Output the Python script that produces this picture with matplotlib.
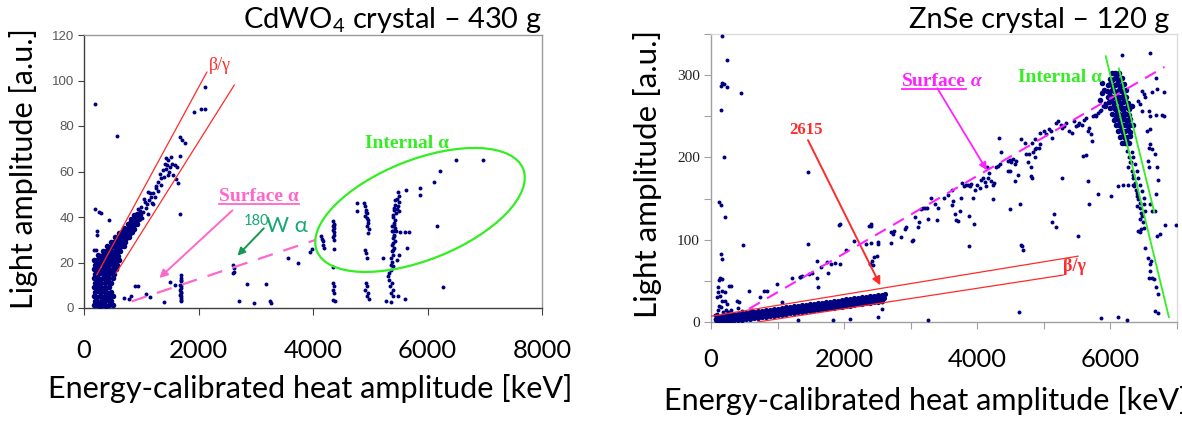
import matplotlib
matplotlib.use("Agg")
import matplotlib.pyplot as plt
from matplotlib.patches import Ellipse
from matplotlib.lines import Line2D
from matplotlib.transforms import IdentityTransform

# ---------------- DATA : CdWO4 (left) ----------------
cd_xticks = [0, 2000, 4000, 6000, 8000]
cd_yticks = [0, 20, 40, 60, 80, 100, 120]

# dense beta/gamma blob + band
cd_dense = [(170,1.1),(225,1.3),(280,0.9),(335,1.2),(390,1.0),(445,1.4),(500,1.2),
            (195,3.1),(250,2.8),(305,3.2),(360,2.9),(415,3.3),(470,3.0),
            (170,5.2),(225,4.9),(280,5.1),(335,4.8),(390,5.3),(445,5.0),(500,5.2),
            (195,7.0),(250,7.3),(305,6.9),(360,7.2),(415,6.8),(470,7.1),
            (170,9.1),(225,8.8),(280,9.2),(335,9.0),(390,8.9),(445,9.3),
            (195,11.2),(250,10.9),(305,11.1),(360,10.8),(415,11.3),(470,11.0),
            (170,13.0),(225,13.2),(280,12.9),(335,13.1),(390,12.8),(445,13.3),(500,13.0),
            (195,15.1),(250,14.8),(305,15.2),(360,14.9),(415,15.0),(470,15.3),(525,14.9),
            (170,17.0),(225,17.2),(280,16.9),(335,17.1),(390,16.8),(445,17.3),(500,17.0),(555,17.2),
            (195,19.1),(250,18.9),(305,19.2),(360,18.8),(415,19.0),(470,19.3),(525,19.1),(580,18.9),
            (175,21.0),(230,21.2),(285,20.9),(340,21.1),(395,20.8),(450,21.2),(505,21.0),(560,20.9),(615,21.3),
            (250,23.1),(300,22.9),(350,23.2),(400,23.0),(450,22.8),(500,23.1),(550,23.3),(600,22.9),
            (330,25.0),(380,25.2),(430,24.9),(480,25.1),(530,24.8),(580,25.2),(630,25.0),
            (400,27.1),(450,26.9),(500,27.2),(550,27.0),(600,26.8),(650,27.1),(690,27.3),
            (470,29.0),(520,29.2),(570,28.9),(620,29.1),(670,28.8),(720,29.2),
            (540,31.1),(590,30.9),(640,31.2),(690,31.0),(740,30.8),(785,31.1),
            (620,33.0),(665,33.2),(710,32.9),(755,33.1),(800,32.8),(840,33.2),
            (700,35.1),(745,34.9),(790,35.2),(835,35.0),(880,34.8),
            (760,37.0),(805,37.2),(850,36.9),(895,37.1),(930,36.8),
            (820,39.1),(865,38.9),(910,39.2),(955,39.0),
            (880,41.0),(925,41.2),(970,40.9)]
cd_band_mid = [(960,40.0),(985,42.5),(1000,44.5),(1029,42.3),(1058,46.7),(1075,44.0),(1100,45.5),
               (1129,47.5),(1150,50.5),(1164,48.9),(1180,46.0),(1205,50.4),(1235,48.9),(1250,53.8),
               (1264,52.6),(1294,55.5),(1300,51.5),(1323,59.1),(1352,57.0),(1382,60.6),(1400,57.8),
               (1411,63.5),(1429,66.0),(1441,61.3),(1450,63.0),(1470,65.0),(1480,60.0),(1499,62.0),
               (1515,66.2),(1529,63.5),(1550,58.5),(1588,62.8),(1600,56.5),(1629,61.8),(1640,55.0),
               (920,37.8),(940,43.5),(1020,39.5),(1110,41.5),(1210,45.5),(1040,48.0),(1120,51.0),
               (1340,54.0),(1460,58.5)]
cd_band_high = [(1670,75.0),(1720,74.0),(1770,72.7),(1676,67.0),(1920,86.0),(2050,87.5),
                (2110,87.5),(2120,97.0)]
cd_outliers = [(190,89.5),(570,75.5),(1670,41.3),(200,43.6),(260,42.4),(300,41.7),(430,38.8),
               (230,33.7),(235,32.2),(175,25.6),(210,25.6),
               (695,4.4),(828,5.1),(894,9.5),(940,9.5),(1079,6.3),(1145,4.8),(1390,2.5),
               (1500,11.5),(1590,10.2),(780,4.0),
               (2847,10.7),(3178,10.7),(2714,2.9),(2966,2.2),(3257,2.9),(3262,2.2),
               (3555,22.0),(3740,19.8),(3950,24.6),(3985,25.8)]
cd_col_1690 = [(1690,14.6),(1688,13.2),(1695,11.7),(1685,10.2),(1692,9.5),(1698,8.8),(1682,8.0),
               (1690,7.0),(1696,6.5),(1684,5.9),(1692,5.1),(1700,4.4),(1686,3.7),(1694,2.9),(1690,12.4)]
cd_w180 = [(2595,19.0),(2615,17.6),(2628,16.0),(2610,15.2)]
cd_alpha = [(4148,31.5),(4160,30.3),(4178,29.3),(4166,27.8),(4196,26.4),
            (4350,38.1),(4360,36.6),(4365,35.2),(4350,34.4),(4362,33.3),(4368,32.2),(4352,31.2),
            (4360,30.0),(4345,36.0),(4372,37.0),(4360,26.1),(4345,18.0),(4356,11.0),(4365,9.5),
            (4355,8.0),(4370,6.6),(4348,3.7),(4380,2.9),
            (4772,46.1),(4772,42.5),(4890,46.1),(4900,44.7),(4930,43.2),(4945,41.8),(4915,40.3),
            (4955,38.8),(4965,37.4),(4935,36.2),(4970,34.7),(4955,33.0),(4950,39.5),(4925,42.0),
            (4900,25.6),(4930,24.2),(4940,22.0),(4930,11.0),(4945,9.5),(4915,8.0),(4955,6.6),
            (4940,5.1),(4970,4.0),
            (5440,47.3),(5430,45.4),(5410,43.2),(5455,41.8),(5395,40.0),(5430,38.8),(5410,37.4),
            (5385,35.9),(5440,35.2),(5375,33.7),(5420,32.2),(5400,30.8),(5430,29.3),(5375,27.8),
            (5410,26.4),(5385,24.9),(5400,23.4),(5355,22.0),(5375,20.1),(5400,18.3),(5355,16.6),
            (5325,15.4),(5420,44.0),(5400,41.0),(5415,36.5),(5395,34.0),(5420,31.5),(5390,28.5),
            (5405,25.5),(5365,19.0),(5310,13.9),(5335,12.5),(5380,11.0),(5350,9.5),(5390,8.0),
            (5365,6.6),(5405,5.1),(5280,2.9),(5365,2.5),
            (5484,50.8),(5495,49.4),(5470,47.9),(5505,46.4),(5484,45.0),(5466,43.5),(5500,42.5),
            (5454,33.7),(5525,33.3),(5602,33.5),(5680,33.3),(5644,26.4),(5510,23.4),(5480,5.1),
            (5602,4.0),(5217,22.0),(5466,21.2),
            (5632,52.0),(5870,52.7),(5870,49.8),(6107,55.2),(6226,60.1),(6493,64.9),(6968,64.9),
            (6166,36.2),(6273,9.1)]

# ---------------- DATA : ZnSe (right) ----------------
zn_xticks = [0, 1000, 2000, 3000, 4000, 5000, 6000, 7000]
zn_xticklabels = ["0", "", "2000", "", "4000", "", "6000", ""]
zn_yticks = [0, 50, 100, 150, 200, 250, 300, 350]
zn_yticklabels = ["0", "", "100", "", "200", "", "300", ""]

zn_band_center = [(80,2.4),(140,3.1),(200,3.8),(260,4.3),(320,5.0),(380,5.6),(440,6.3),(500,6.9),
                  (560,7.6),(620,8.3),(680,8.8),(740,9.5),(800,10.2),(860,10.8),(920,11.4),
                  (980,12.1),(1040,12.7),(1100,13.4),(1160,14.0),(1220,14.7),(1280,15.3),
                  (1340,16.0),(1400,16.6),(1460,17.3),(1520,17.9),(1580,18.6),(1640,19.2),
                  (1700,19.8),(1760,20.5),(1820,21.2),(1880,21.8),(1940,22.4),(2000,23.1),
                  (2060,23.7),(2120,24.4),(2180,25.0),(2240,25.7),(2300,26.3),(2360,27.0),
                  (2420,27.6),(2480,28.3),(2540,28.9),(2600,29.6)]
zn_band_upper = [(110,6.6),(170,7.3),(230,8.0),(290,8.6),(350,9.3),(410,10.0),(470,10.6),
                 (530,11.3),(590,11.9),(650,12.5),(710,13.2),(770,13.8),(830,14.5),(890,15.1),
                 (950,15.8),(1010,16.4),(1070,17.1),(1130,17.7),(1190,18.4),(1250,19.0),
                 (1310,19.6),(1370,20.3),(1430,21.0),(1490,21.6),(1550,22.2),(1610,22.9),
                 (1670,23.5),(1730,24.2),(1790,24.8),(1850,25.5),(1910,26.1),(1970,26.8),
                 (2030,27.4),(2090,28.0),(2150,28.7),(2210,29.3),(2270,30.0),(2330,30.6),
                 (2390,31.3),(2450,31.9),(2510,32.6),(2570,33.2),(2620,34.5)]
zn_band_lower = [(110,0.5),(170,0.8),(230,1.2),(290,1.5),(350,2.0),(410,2.3),(470,2.8),
                 (530,3.3),(590,3.9),(650,4.5),(710,5.2),(770,5.8),(830,6.5),(890,7.1),
                 (950,7.8),(1010,8.4),(1070,9.1),(1130,9.7),(1190,10.4),(1250,11.0),
                 (1310,11.6),(1370,12.3),(1430,13.0),(1490,13.6),(1550,14.2),(1610,14.9),
                 (1670,15.5),(1730,16.2),(1790,16.8),(1850,17.5),(1910,18.1),(1970,18.8),
                 (2030,19.4),(2090,20.0),(2150,20.7),(2210,21.3),(2270,22.0),(2330,22.6),
                 (2390,23.3),(2450,23.9),(2510,24.6),(2570,25.2)]
zn_low_cluster = [(116,51),(141,53),(167,52),(106,42),(167,38),(268,44),(293,44),(207,36),
                  (106,36),(141,31),(167,26),(217,26),(242,22),(394,26),(419,24),(570,38),
                  (798,38),(1066,24),(90,30),(120,20),(100,15),(150,18),(300,15),(250,12),
                  (60,8),(400,17),(180,12),(230,14),(330,10),(460,13),(520,11),(620,14),
                  (60,4),(70,6),(90,10)]
zn_outliers = [(160,348),(240,318),(143,287),(171,290),(200,289),(240,285),(446,278),(143,258),
               (200,201),(126,146),(143,142),(217,128),(143,83),(171,77),(486,93),(1457,182),
               (1457,95),(1943,119),(2400,119),(2331,95),(2400,96),(2743,111),(2857,103),
               (3040,100),(1943,71),(1754,60),(1514,59),(1589,53),(1343,55),(1371,56),
               (1600,43),(1833,3),(2086,4),(2515,6),(2565,16),(2565,24),(1303,3),(3265,3),
               (4629,12)]
zn_surface = [(734,30),(846,38),(987,46),(1215,54),(1342,55),(1468,58),(1595,74),(1645,67),
              (1747,73),(1797,71),(1924,118),(2025,88),(2152,99),(2380,117),(2405,117),
              (2430,69),(2456,79),(2506,97),(1858,72),(2389,70),(2414,74),(2490,80),(2505,95),
              (2700,96),(2735,107),(2710,109),(2910,113),(2935,115),(3025,98),(3060,127),
              (3120,121),(3110,115),(3160,137),(3185,138),(3210,138),(3250,138),(3260,125),
              (3300,151),(3360,143),(3410,139),(3400,124),(3495,151),(3560,154),(3625,160),
              (3635,147),(3620,142),(3660,131),(3685,124),(3710,123),(3735,135),(3770,169),
              (3800,165),(3830,166),(3860,167),(3885,165),(3910,168),(3760,151),(3870,129),
              (3935,151),(3960,161),(4000,167),(3870,92),(3950,119),(4035,163),(4060,172),
              (4085,175),(4110,170),(4135,165),(4160,175),(4150,188),(4170,181),(4210,171),
              (4235,167),(4250,169),(4240,149),(4285,188),(4310,190),(4335,192),(4320,224),
              (4360,206),(4460,184),(4485,184),(4485,137),(4460,196),(4485,197),(4510,195),
              (4535,198),(4560,192),(4585,196),(4560,171),(4610,179),(4635,143),(4660,94),
              (4685,88),(4660,222),(4710,218),(4735,204),(4760,194),(4800,177),(4835,206),
              (4860,210),(4885,212),(4935,216),(4920,212),(4870,222),(4820,217),
              (4949,230),(5000,232),(5036,228),(5076,234),(5102,232),(5127,224),(5178,242),
              (5218,244),(5254,240),(5279,236),(5305,238),(5330,242),(5381,232),(5421,230),
              (5457,244),(5482,238),(5508,240),(5533,242),(5574,240),(5609,246),(5635,248),
              (5660,232),(5685,236),(5711,228),(5721,220),(5736,250),(5761,252),(5787,250),
              (5812,254),(5838,256),(5863,258),(5888,262),(5914,266),(5939,264),
              (4772,204),(4812,188),(4822,175),(4873,200),(5584,202),(5635,203),(5279,175),
              (5660,171),(5685,143),(5152,131),(5127,121),(5178,115),(5508,105),(4670,92),
              (5863,5),(6117,6),(6254,3)]
# internal-alpha peak, read row by row
zn_peak = [(6030,302),(6065,303),(6100,301),(6135,302),
           (5995,295),(6030,294),(6065,296),(6100,295),(6135,294),(6170,296),
           (5965,288),(6000,289),(6035,287),(6070,288),(6105,289),(6140,287),(6175,288),(6210,289),
           (5950,281),(5985,280),(6020,282),(6055,281),(6090,280),(6125,282),(6160,281),(6195,280),(6230,282),
           (5960,274),(5995,275),(6030,273),(6065,274),(6100,275),(6135,273),(6170,274),(6205,275),(6240,273),
           (5980,267),(6015,268),(6050,266),(6085,267),(6120,268),(6155,266),(6190,267),(6225,268),(6260,266),
           (6000,260),(6035,261),(6070,259),(6105,260),(6140,261),(6175,259),(6210,260),(6245,261),(6280,259),
           (6030,253),(6065,252),(6100,254),(6135,253),(6170,252),(6205,254),(6240,253),(6275,252),
           (6060,246),(6095,247),(6130,245),(6165,246),(6200,247),(6235,245),(6270,246),(6300,247),
           (6090,239),(6125,240),(6160,238),(6195,239),(6230,240),(6265,238),(6300,239),
           (6120,232),(6155,233),(6190,231),(6225,232),(6260,233),(6295,231),
           (6150,225),(6185,226),(6220,224),(6255,225),(6290,226),
           (6180,218),(6215,217),(6250,219),(6285,218),
           (5850,270),(5880,278),(5900,282),(5870,290),(5920,262),(6330,262),(6340,240)]
zn_tail = [(6193,232),(6218,224),(6244,216),(6254,208),(6284,200),(6305,194),(6269,188),(6320,184),
           (6345,179),(6335,175),(6370,169),(6355,165),(6385,161),(6396,157),(6406,153),(6421,149),
           (6437,145),(6406,141),(6447,139),(6457,133),(6472,129),(6437,125),(6488,121),(6294,194),
           (6320,206),(6345,200),(6370,192),(6396,184),(6421,175),(6447,167),(6472,159),(6497,151),
           (6508,143),(6523,135),
           (6472,281),(6497,277),(6523,273),(6624,279),(6700,283),(6421,269),(6447,265),(6472,256),
           (6574,256),(6599,250),(6690,252),(6802,279),(6802,250),(6548,232),(6589,234),(6599,216),
           (6574,212),(6624,210),(6675,204),(6559,196),(6574,188),(6700,188),(6690,155),(6675,135),
           (6599,143),(6624,135),(6827,118),(6980,118),(6751,107),(6700,105),(6421,111),(6447,109),
           (6457,113),(6508,114),(6523,90),(6558,78),(6599,70),(6614,74),(6624,54),(6660,52),
           (6690,42),(6711,34),(6574,54),(6599,62),(6675,13),(6711,11),(6269,167),(6345,167),
           (6117,165),(6183,167),(6015,153),(5812,155),(6178,324),(6599,327),(6686,297),(6771,251),
           (6714,172)]

# ---------------- FIGURE ----------------
W, H = 1182, 421
plt.rcParams['mathtext.fontset'] = 'custom'
plt.rcParams['mathtext.rm'] = 'Lato'
plt.rcParams['mathtext.it'] = 'Lato:italic'
SANS = ['Lato', 'DejaVu Sans']
SERIF = ['Liberation Serif', 'DejaVu Serif']
NAVY = '#000080'
RED = '#ff2a2a'
PINK = '#ff66cc'
MAG = '#ff22ff'
LIME = '#33ee22'
TEAL = '#17a873'

fig = plt.figure(figsize=(W / 100, H / 100), dpi=100)
fig.patch.set_facecolor('white')


def px_axes(x0, y0, x1, y1):
    return fig.add_axes([x0 / W, 1 - y1 / H, (x1 - x0) / W, (y1 - y0) / H])


def scatter(ax, pts, s=7):
    xs = [p[0] for p in pts]
    ys = [p[1] for p in pts]
    ax.scatter(xs, ys, s=s, c=NAVY, linewidths=0, zorder=3)


ax1 = px_axes(84, 35, 542, 308)
ax2 = px_axes(711, 34, 1177, 322)

# ---- left panel ----
ax1.set_xlim(0, 8000)
ax1.set_ylim(0, 120)
scatter(ax1, cd_dense, s=16)
for grp in (cd_band_mid, cd_band_high, cd_outliers, cd_col_1690, cd_w180, cd_alpha):
    scatter(ax1, grp, s=8)
ax1.set_xticks(cd_xticks)
ax1.set_xticklabels([str(v) for v in cd_xticks], family=SANS, fontsize=20)
ax1.set_yticks(cd_yticks)
ax1.set_yticklabels([str(v) for v in cd_yticks], family=['Liberation Sans'], fontsize=9.5,
                    color='#595959')
ax1.tick_params(axis='x', length=5, pad=17, color='#404040')
ax1.tick_params(axis='y', length=4, pad=3, color='#404040')
for k, sp in ax1.spines.items():
    sp.set_color('#404040' if k in ('left', 'bottom') else '#9a9a9a')
    sp.set_linewidth(1.0)

ax1.plot([223, 2146], [14.6, 103.7], color=RED, lw=0.9, zorder=4)
ax1.plot([559, 2625], [15.3, 98.0], color=RED, lw=0.9, zorder=4)
ax1.text(2379, 106.8, 'β/γ', color=RED, fontsize=13, family=SERIF, ha='center', va='center')
ax1.plot([831, 4053], [2.9, 30.0], color=PINK, lw=1.6, dashes=(7, 5), zorder=4)
t_surf1 = ax1.text(3057, 49.0, 'Surface α', color=PINK, fontsize=14, fontweight='bold',
                   family=SERIF, ha='center', va='center')
ax1.annotate('', xy=(1316, 13.2), xytext=(2592, 42.9),
             arrowprops=dict(arrowstyle='-|>', color=PINK, lw=1.4, mutation_scale=12,
                             shrinkA=0, shrinkB=0))
ax1.text(2784, 36.7, '180', color=TEAL, fontsize=10.5, family=SANS, ha='left', va='baseline')
ax1.text(3176, 33.4, 'W α', color=TEAL, fontsize=16, family=SANS, ha='left', va='baseline')
ax1.annotate('', xy=(2680, 23.0), xytext=(3140, 35.0),
             arrowprops=dict(arrowstyle='-|>', color='#129a4e', lw=1.4, mutation_scale=11,
                             shrinkA=0, shrinkB=0))
ax1.text(5648, 72.4, 'Internal α', color=LIME, fontsize=14, fontweight='bold', family=SERIF,
         ha='center', va='center')

# ---- right panel ----
ax2.set_xlim(0, 7000)
ax2.set_ylim(0, 350)
for grp in (zn_band_center, zn_band_upper, zn_band_lower):
    scatter(ax2, grp, s=14)
scatter(ax2, zn_peak, s=16)
for grp in (zn_low_cluster, zn_outliers, zn_surface, zn_tail):
    scatter(ax2, grp, s=8)
ax2.set_xticks(zn_xticks)
ax2.set_xticklabels(zn_xticklabels, family=SANS, fontsize=20)
ax2.set_yticks(zn_yticks)
ax2.set_yticklabels(zn_yticklabels, family=SERIF, fontsize=11, color='#222222')
ax2.tick_params(axis='x', length=5, pad=14, color='#a0a0a0')
ax2.tick_params(axis='y', length=5, pad=3, color='#a0a0a0')
for k, sp in ax2.spines.items():
    sp.set_color('#a0a0a0' if k in ('left', 'bottom') else '#dcdcdc')
    sp.set_linewidth(1.0)

ax2.plot([0, 5514], [7, 80], color=RED, lw=0.9, zorder=4)
ax2.plot([700, 5290], [0, 57], color=RED, lw=0.9, zorder=4)
ax2.text(5457, 66.9, 'β/γ', color=RED, fontsize=13, fontweight='bold', family=SERIF,
         ha='center', va='center')
ax2.text(1429, 233, '2615', color=RED, fontsize=12, fontweight='bold', family=SERIF,
         ha='center', va='center')
ax2.annotate('', xy=(2543, 44.6), xytext=(1457, 221),
             arrowprops=dict(arrowstyle='-|>', color=RED, lw=1.4, mutation_scale=12,
                             shrinkA=0, shrinkB=0))
ax2.plot([571, 6812], [16, 310], color=MAG, lw=1.5, dashes=(6, 4), zorder=4)
t_surf2 = ax2.text(3829, 292, 'Surface', color=MAG, fontsize=14, fontweight='bold',
                   family=SERIF, ha='right', va='center')
ax2.text(3829, 292, ' α', color=MAG, fontsize=14, fontweight='bold', style='italic',
         family=SERIF, ha='left', va='center')
ax2.annotate('', xy=(4143, 184.5), xytext=(3400, 284),
             arrowprops=dict(arrowstyle='-|>', color=MAG, lw=1.3, mutation_scale=11,
                             shrinkA=0, shrinkB=0))
ax2.plot([5929, 6878], [323, 6], color=LIME, lw=1.3, zorder=4)
ax2.plot([6127, 6660], [308, 133], color=LIME, lw=1.3, zorder=4)
ax2.text(5240, 297, 'Internal α', color=LIME, fontsize=14, fontweight='bold', family=SERIF,
         ha='center', va='center')

# ---- big labels / titles ----
lab_kw = dict(family=SANS, color='black')
xl1 = fig.text(48 / W, 1 - 398 / H, 'Energy-calibrated heat amplitude [keV]', ha='left',
               va='baseline', fontsize=20, **lab_kw)
xl2 = fig.text(664 / W, 1 - 410 / H, 'Energy-calibrated heat amplitude [keV]', ha='left',
               va='baseline', fontsize=20, **lab_kw)
yl1 = fig.text(24 / W, 1 - 169 / H, 'Light amplitude [a.u.]', rotation=90, ha='center',
               va='center', fontsize=20, **lab_kw)
yl2 = fig.text(648 / W, 1 - 174 / H, 'Light amplitude [a.u.]', rotation=90, ha='center',
               va='center', fontsize=20, **lab_kw)
ti1 = fig.text(542 / W, 1 - 28 / H, r'CdWO$_\mathrm{4}$ crystal – 430 g', ha='right',
               va='baseline', fontsize=20, **lab_kw)
ti2 = fig.text(909 / W, 1 - 28 / H, 'ZnSe crystal – 120 g', ha='left', va='baseline',
               fontsize=20, **lab_kw)

fig.canvas.draw()
r = fig.canvas.get_renderer()


def fit(t, target, vertical=False):
    bb = t.get_window_extent(r)
    cur = bb.height if vertical else bb.width
    t.set_fontsize(t.get_fontsize() * target / cur)


fit(xl1, 528)
fit(yl1, 282, vertical=True)
fit(yl2, 290, vertical=True)
fit(ti1, 298)
xl2.set_fontsize(xl1.get_fontsize())
ti2.set_fontsize(ti1.get_fontsize())

probe = fig.text(0, 0, '2000', fontsize=20, family=SANS)
fig.canvas.draw()
pw = probe.get_window_extent(r).width
probe.remove()
tsize = 20 * 59 / pw
for lab in ax1.get_xticklabels() + ax2.get_xticklabels():
    lab.set_fontsize(tsize)

fig.canvas.draw()

for t, col in ((t_surf1, PINK), (t_surf2, MAG)):
    bb = t.get_window_extent(r)
    y = bb.y0 + 1
    fig.add_artist(Line2D([bb.x0 / W, bb.x1 / W], [y / H, y / H], color=col, lw=1.3,
                          transform=fig.transFigure))

cx, cy = ax1.transData.transform((5869, 43.1))
ell = Ellipse((cx, cy), 222, 100, angle=21.7, transform=IdentityTransform(), fill=False,
              ec=LIME, lw=1.6, zorder=5)
fig.add_artist(ell)

fig.savefig('out.png', dpi=100, facecolor='white')
